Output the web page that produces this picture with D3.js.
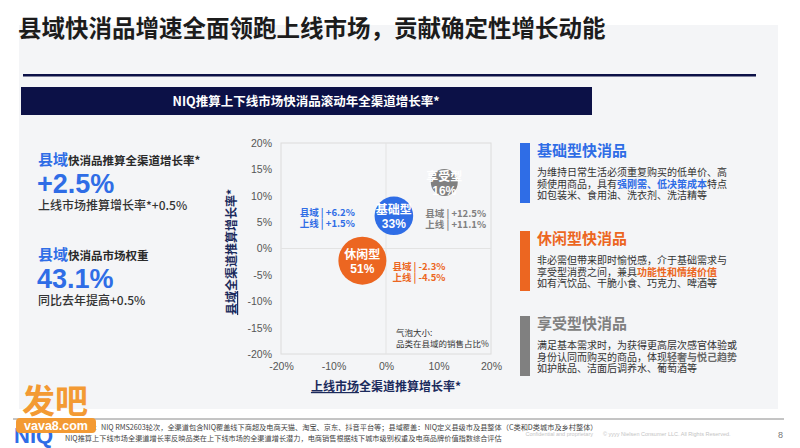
<!DOCTYPE html>
<html>
<head>
<meta charset="utf-8">
<script src="https://cdn.jsdelivr.net/npm/d3@7"></script>
<style>
  body { margin: 0; background: #fff; }
  svg { display: block; font-family: "Liberation Sans", "Noto Sans CJK SC", sans-serif; }
</style>
</head>
<body>
<div id="chart"></div>
<script>
// bubble data: x = 上线 growth, y = 县域 growth, size = share of county sales
const categories = ["基础型", "休闲型", "享受型"];
const uplineGrowth = [1.5, -4.5, 11.1];
const countyGrowth = [6.2, -2.3, 12.5];
const countyShare = [33, 51, 16];
const xTicks = [-20, -10, 0, 10, 20];
const yTicks = [20, 15, 10, 5, 0, -5, -10, -15, -20];

const kpiBlocks = [
  { head: "快消品推算全渠道增长率*", big: "+2.5%", sub: "上线市场推算增长率*+0.5%" },
  { head: "快消品市场权重", big: "43.1%", sub: "同比去年提高+0.5%" }
];

const typeTitles = ["基础型快消品", "休闲型快消品", "享受型快消品"];
const typeLines = [
  [[["为维持日常生活必须重复购买的低单价、高", 0]],
   [["频使用商品，具有", 0], ["强刚需、低决策成本", 1], ["特点", 0]],
   [["如包装米、食用油、洗衣剂、洗洁精等", 0]]],
  [[["非必需但带来即时愉悦感，介于基础需求与", 0]],
   [["享受型消费之间，兼具", 0], ["功能性和情绪价值", 1]],
   [["如有汽饮品、干脆小食、巧克力、啤酒等", 0]]],
  [[["满足基本需求时，为获得更高层次感官体验或", 0]],
   [["身份认同而购买的商品，体现", 0], ["轻奢与悦己趋势", 1]],
   [["如护肤品、洁面后调养水、葡萄酒等", 0]]]
];

const colors = ["#2f6de6", "#ec6621", "#808080"];
const navy = "#0c1147";
const width = 800, height = 448;

const svg = d3.select("#chart").append("svg")
  .attr("width", width)
  .attr("height", height);

// background panel
svg.append("rect").attr("x", 19).attr("y", 25).attr("width", 759).attr("height", 384).attr("fill", "#f4f5f7");

svg.append("text").attr("x", 18).attr("y", 37)
  .attr("font-size", 23.5).attr("font-weight", 700).attr("fill", "#1c1c1c")
  .attr("font-family", "Noto Sans CJK SC")
  .text("县域快消品增速全面领跑上线市场，贡献确定性增长动能");

svg.append("rect").attr("x", 23).attr("y", 74).attr("width", 733).attr("height", 2.5).attr("fill", navy);
svg.append("rect").attr("x", 21).attr("y", 87).attr("width", 571).attr("height", 28).attr("fill", navy);
svg.append("text").attr("x", 306).attr("y", 105.5).attr("text-anchor", "middle")
  .attr("font-size", 12.5).attr("font-weight", 700).attr("fill", "#fff")
  .attr("font-family", "Noto Sans CJK SC")
  .text("NIQ推算上下线市场快消品滚动年全渠道增长率*");

// left KPI blocks
kpiBlocks.forEach(function (b, i) {
  var y0 = 165 + i * 95;
  var t = svg.append("text").attr("x", 38).attr("y", y0).attr("font-family", "Noto Sans CJK SC").attr("font-weight", 700);
  t.append("tspan").attr("font-size", 15).attr("fill", colors[0]).text("县域");
  t.append("tspan").attr("font-size", 11.5).attr("fill", "#2a2a2a").text(b.head);
  svg.append("text").attr("x", 37).attr("y", y0 + 28).attr("font-size", 27).attr("font-weight", 700)
    .attr("fill", colors[0]).text(b.big);
  svg.append("text").attr("x", 38).attr("y", y0 + 44.5).attr("font-size", 12).attr("font-weight", 500)
    .attr("fill", "#333").attr("font-family", "Noto Sans CJK SC").text(b.sub);
});

// bubble chart
var plot = { left: 281, right: 491, top: 143, bottom: 354 };
var xScale = d3.scaleLinear().domain([-20, 20]).range([plot.left, plot.right]);
var yScale = d3.scaleLinear().domain([-20, 20]).range([plot.bottom, plot.top]);
var rScale = d3.scaleSqrt().domain([0, 51]).range([0, 24]);

var g = svg.append("g");
g.append("rect").attr("x", plot.left).attr("y", plot.top)
  .attr("width", plot.right - plot.left).attr("height", plot.bottom - plot.top)
  .attr("fill", "none").attr("stroke", "#dcdcdc");
g.append("line").attr("x1", xScale(0)).attr("x2", xScale(0)).attr("y1", plot.top).attr("y2", plot.bottom)
  .attr("stroke", "#e3e3e3");
g.append("line").attr("x1", plot.left).attr("x2", plot.right).attr("y1", yScale(0)).attr("y2", yScale(0))
  .attr("stroke", "#e3e3e3");

var xAxis = g.append("g").attr("transform", "translate(0," + (plot.bottom + 6) + ")")
  .call(d3.axisBottom(xScale).tickValues(xTicks).tickSize(0).tickFormat(d => d + "%"));
var yAxis = g.append("g").attr("transform", "translate(" + (plot.left - 6) + ",0)")
  .call(d3.axisLeft(yScale).tickValues(yTicks).tickSize(0).tickFormat(d => d + "%"));
[xAxis, yAxis].forEach(function (a) {
  a.select(".domain").remove();
  a.selectAll("text").attr("font-size", 10.5).attr("fill", "#555")
    .attr("font-family", "Liberation Sans");
});

// axis titles
var xt = svg.append("text").attr("x", 386).attr("y", 391).attr("text-anchor", "middle")
  .attr("font-size", 12).attr("font-weight", 700).attr("fill", "#1b2a5c").attr("font-family", "Noto Sans CJK SC");
xt.append("tspan").attr("text-decoration", "underline").text("上线市场");
xt.append("tspan").text("全渠道推算增长率*");

var yt = svg.append("text").attr("transform", "translate(236,252) rotate(-90)").attr("text-anchor", "middle")
  .attr("font-size", 12).attr("font-weight", 700).attr("fill", "#1b2a5c").attr("font-family", "Noto Sans CJK SC");
yt.append("tspan").attr("text-decoration", "underline").text("县域");
yt.append("tspan").text("全渠道推算增长率*");

// bubbles
var data = categories.map(function (c, i) {
  return { name: c, x: uplineGrowth[i], y: countyGrowth[i], share: countyShare[i], color: colors[i] };
});

// label placement relative to each bubble
var labelPos = {
  "基础型": { dx: -39, dy: 0, anchor: "end" },
  "休闲型": { dx: 30, dy: 9, anchor: "start" },
  "享受型": { dx: -19, dy: 34, anchor: "start" }
};

var fmt = d => (d > 0 ? "+" : "") + d.toFixed(1) + "%";

data.forEach(function (d) {
  var cx = xScale(d.x), cy = yScale(d.y), r = rScale(d.share);
  g.append("circle").attr("cx", cx).attr("cy", cy).attr("r", r).attr("fill", d.color);
  g.append("text").attr("x", cx).attr("y", cy - 1.5).attr("text-anchor", "middle")
    .attr("font-size", 12).attr("font-weight", 700).attr("fill", "#fff").attr("font-family", "Noto Sans CJK SC")
    .text(d.name);
  g.append("text").attr("x", cx).attr("y", cy + 12.5).attr("text-anchor", "middle")
    .attr("font-size", 12).attr("font-weight", 700).attr("fill", "#fff")
    .text(d.share + "%");

  var lp = labelPos[d.name];
  var lab = g.append("text").attr("text-anchor", lp.anchor)
    .attr("font-size", 9.5).attr("font-weight", 700).attr("fill", d.color).attr("font-family", "Noto Sans CJK SC");
  lab.append("tspan").attr("x", cx + lp.dx).attr("y", cy + lp.dy).text("县域 | " + fmt(d.y));
  lab.append("tspan").attr("x", cx + lp.dx).attr("y", cy + lp.dy + 11).text("上线 | " + fmt(d.x));
});

var note = svg.append("text").attr("font-size", 8.5).attr("fill", "#333").attr("font-family", "Noto Sans CJK SC");
note.append("tspan").attr("x", 396).attr("y", 336).text("气泡大小:");
note.append("tspan").attr("x", 396).attr("y", 347).text("品类在县域的销售占比%");

// right descriptions
var blockTop = [143, 231, 316];
typeTitles.forEach(function (title, i) {
  var top = blockTop[i];
  svg.append("rect").attr("x", 520).attr("y", top).attr("width", 10).attr("height", 60).attr("fill", colors[i]);
  svg.append("text").attr("x", 537).attr("y", top + 13).attr("font-size", 15).attr("font-weight", 700)
    .attr("fill", colors[i]).attr("font-family", "Noto Sans CJK SC").text(title);
  typeLines[i].forEach(function (segs, j) {
    var t = svg.append("text").attr("x", 537).attr("y", top + 33 + j * 11.7)
      .attr("font-size", 10).attr("fill", "#333").attr("font-family", "Noto Sans CJK SC");
    segs.forEach(function (s) {
      var sp = t.append("tspan").text(s[0]);
      if (s[1]) sp.attr("font-weight", 700).attr("fill", i === 2 ? "#6a6a6a" : colors[i]);
    });
  });
});

// footer
svg.append("line").attr("x1", 13).attr("x2", 784).attr("y1", 419).attr("y2", 419).attr("stroke", "#8a8a8a");
svg.append("text").attr("x", 14).attr("y", 443).attr("font-size", 22).attr("font-weight", 700)
  .attr("fill", "#2f6de6").text("NIQ");
var foot = svg.append("text").attr("font-size", 7.2).attr("fill", "#444").attr("font-family", "Noto Sans CJK SC");
foot.append("tspan").attr("x", 65).attr("y", 430)
  .text("数据来源：NIQ RMS2603轮次，全渠道包含NIQ覆盖线下商超及电商天猫、淘宝、京东、抖音平台等；县域覆盖：NIQ定义县级市及县整体（C类和D类城市及乡村整体）");
foot.append("tspan").attr("x", 65).attr("y", 441)
  .text("NIQ推算上下线市场全渠道增长率反映品类在上下线市场的全渠道增长潜力，电商销售根据线下城市级别权重及电商品牌价值指数综合评估");
svg.append("text").attr("x", 593).attr("y", 436).attr("text-anchor", "end").attr("font-size", 5.5).attr("fill", "#c4c4c4")
  .text("Confidential and proprietary");
svg.append("text").attr("x", 603).attr("y", 436).attr("font-size", 5.5).attr("fill", "#c4c4c4")
  .text("© yyyy Nielsen Consumer LLC. All Rights Reserved.");
svg.append("text").attr("x", 778).attr("y", 438).attr("font-size", 9).attr("fill", "#777").text("8");

// watermark
svg.append("text").attr("x", 22).attr("y", 413).attr("font-size", 33).attr("font-weight", 700)
  .attr("fill", "#f39a33").attr("font-family", "Noto Sans CJK SC").text("发吧");
svg.append("rect").attr("x", 16).attr("y", 418).attr("width", 80).attr("height", 15).attr("rx", 4).attr("fill", "#f39a33");
svg.append("text").attr("x", 56).attr("y", 430).attr("text-anchor", "middle").attr("font-size", 12.5)
  .attr("font-weight", 700).attr("fill", "#fff").text("vava8.com");
</script>
</body>
</html>
